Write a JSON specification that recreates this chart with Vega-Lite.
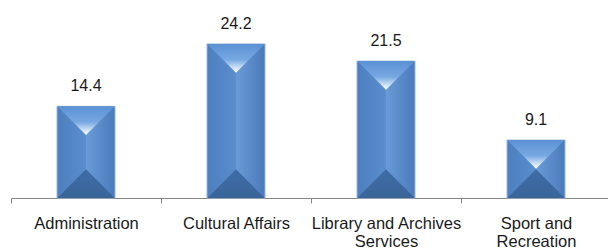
{
  "$schema": "https://vega.github.io/schema/vega-lite/v6.json",
  "width": 600,
  "height": 191,
  "autosize": {"type": "none"},
  "padding": {"left": 11, "top": 7, "right": 0, "bottom": 53},
  "background": "#ffffff",
  "config": {
    "view": {"stroke": null},
    "font": "Liberation Sans"
  },
  "data": {
    "values": [
      {"category": "Administration", "value": 14.4},
      {"category": "Cultural Affairs", "value": 24.2},
      {"category": "Library and Archives Services", "value": 21.5},
      {"category": "Sport and Recreation", "value": 9.1}
    ]
  },
  "encoding": {
    "x": {
      "field": "category",
      "type": "nominal",
      "sort": null,
      "scale": {"paddingInner": 0, "paddingOuter": 0},
      "axis": {
        "title": null,
        "labelAngle": 0,
        "tickBand": "extent",
        "domainColor": "#868686",
        "tickColor": "#868686",
        "tickSize": 5,
        "labelFont": "Liberation Sans",
        "labelFontSize": 16.5,
        "labelColor": "#1a1a1a",
        "labelPadding": 12,
        "labelLineHeight": 18,
        "labelExpr": "datum.label == 'Library and Archives Services' ? ['Library and Archives', 'Services'] : datum.label == 'Sport and Recreation' ? ['Sport and', 'Recreation'] : datum.label"
      }
    }
  },
  "layer": [
    {
      "mark": {
        "type": "bar",
        "width": 58,
        "stroke": "#9ab6da",
        "strokeWidth": 1,
        "fill": {
          "gradient": "linear",
          "x1": 0, "y1": 0, "x2": 1, "y2": 0,
          "stops": [
            {"offset": 0, "color": "#4d7fbf"},
            {"offset": 0.49, "color": "#5a8dcd"},
            {"offset": 0.5, "color": "#6a9bd8"},
            {"offset": 1, "color": "#4a7aba"}
          ]
        }
      },
      "encoding": {
        "y": {
          "field": "value",
          "type": "quantitative",
          "scale": {"domain": [0, 30]},
          "axis": null
        }
      }
    },
    {
      "mark": {
        "type": "point",
        "shape": "M-1,0L1,0L0,1Z",
        "size": 3300,
        "filled": true,
        "opacity": 1,
        "strokeWidth": 0,
        "fill": {
          "gradient": "linear",
          "x1": 0, "y1": 0, "x2": 0, "y2": 1,
          "stops": [
            {"offset": 0, "color": "#5b91d4"},
            {"offset": 0.55, "color": "#77a8e2"},
            {"offset": 0.85, "color": "#d6e6f7"},
            {"offset": 1, "color": "#ffffff"}
          ]
        }
      },
      "encoding": {
        "y": {"field": "value", "type": "quantitative"}
      }
    },
    {
      "mark": {
        "type": "point",
        "shape": "M-1,0L1,0L0,-1Z",
        "size": 3300,
        "filled": true,
        "opacity": 1,
        "strokeWidth": 0,
        "fill": {
          "gradient": "linear",
          "x1": 0, "y1": 0, "x2": 0, "y2": 1,
          "stops": [
            {"offset": 0, "color": "#3e6ca6"},
            {"offset": 1, "color": "#3a6599"}
          ]
        }
      },
      "encoding": {
        "y": {"datum": 0, "type": "quantitative"}
      }
    },
    {
      "mark": {
        "type": "text",
        "baseline": "alphabetic",
        "dy": -15,
        "fontSize": 16,
        "font": "Liberation Sans",
        "color": "#1a1a1a"
      },
      "encoding": {
        "y": {"field": "value", "type": "quantitative"},
        "text": {"field": "value", "type": "quantitative", "format": ".1f"}
      }
    }
  ]
}
